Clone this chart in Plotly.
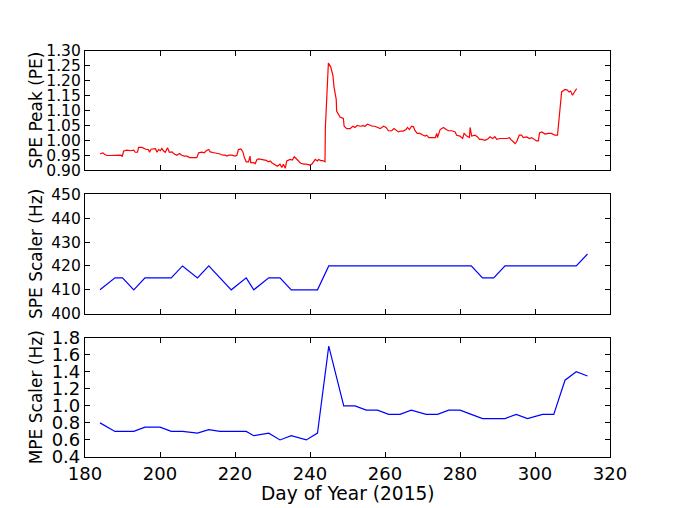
import plotly.graph_objects as go

# ---- data ----
peak_day = [184.0, 184.8, 185.2, 185.8, 186.7, 187.6, 188.5, 189.6, 189.9, 190.3, 191.2, 192.1, 193.0,
            193.4, 194.0, 194.3, 195.2, 195.6, 196.2, 196.9, 197.2, 197.6, 198.3, 198.8, 199.2, 199.6,
            200.1, 200.5, 200.9, 201.4, 202.0, 202.5, 203.2, 203.6, 204.5, 205.2, 205.8, 206.5, 207.2,
            207.9, 209.0, 209.8, 210.3, 211.2, 211.8, 212.3, 213.0, 213.4, 214.1, 214.7, 215.3, 216.0,
            216.8, 217.4, 217.8, 218.3, 219.2, 220.0, 220.5, 220.9, 221.6, 222.1, 222.5, 223.0, 223.6,
            224.0, 224.2, 224.9, 225.4, 225.8, 226.3, 227.2, 227.8, 228.3, 228.9, 229.4, 229.8, 230.7,
            231.3, 232.0, 232.5, 232.9, 233.2, 233.4, 233.8, 234.7, 235.3, 235.8, 236.3, 236.9, 237.5,
            238.4, 239.1, 239.9, 240.5, 241.4, 242.0, 242.3, 242.9, 243.4, 244.0, 244.1, 244.9, 245.5,
            246.1, 246.4, 247.0, 247.1, 248.0, 248.9, 249.1, 249.8, 250.7, 251.4, 252.0, 252.6, 253.4,
            254.1, 254.7, 255.3, 256.0, 256.7, 257.3, 258.0, 258.7, 259.6, 260.3, 260.9, 261.8, 262.4,
            263.0, 263.6, 264.2, 264.9, 265.6, 266.0, 266.5, 267.1, 267.6, 268.0, 268.6, 269.3, 270.2,
            270.7, 271.1, 271.7, 272.5, 273.4, 273.8, 274.0, 274.7, 275.6, 276.3, 276.9, 277.8, 278.7,
            279.1, 280.0, 280.7, 281.1, 281.8, 282.5, 282.7, 283.1, 284.0, 284.6, 285.2, 285.8, 286.7,
            287.6, 288.0, 288.7, 289.3, 289.8, 290.7, 291.6, 292.5, 293.2, 293.5, 294.2, 294.7, 295.1,
            295.8, 296.4, 296.9, 297.8, 298.5, 299.1, 299.7, 300.4, 300.9, 301.2, 301.8, 302.7, 303.6,
            304.4, 305.3, 305.8, 306.0, 307.1, 308.0, 308.6, 309.1, 309.5, 310.0, 310.7, 311.1]
peak_val = [0.956, 0.959, 0.954, 0.950, 0.950, 0.951, 0.950, 0.951, 0.946, 0.965, 0.968, 0.966, 0.968,
            0.961, 0.961, 0.977, 0.977, 0.974, 0.971, 0.970, 0.961, 0.971, 0.972, 0.973, 0.961, 0.970,
            0.966, 0.974, 0.966, 0.961, 0.976, 0.961, 0.962, 0.957, 0.951, 0.957, 0.951, 0.948, 0.948,
            0.943, 0.943, 0.943, 0.959, 0.961, 0.959, 0.966, 0.970, 0.962, 0.960, 0.959, 0.957, 0.955,
            0.951, 0.951, 0.948, 0.951, 0.951, 0.948, 0.951, 0.970, 0.972, 0.962, 0.943, 0.929, 0.929,
            0.948, 0.926, 0.926, 0.923, 0.935, 0.939, 0.937, 0.937, 0.934, 0.929, 0.932, 0.926, 0.918,
            0.914, 0.921, 0.910, 0.921, 0.912, 0.907, 0.932, 0.937, 0.935, 0.946, 0.940, 0.932, 0.924,
            0.921, 0.921, 0.918, 0.921, 0.937, 0.932, 0.937, 0.933, 0.933, 0.929, 1.044, 1.260, 1.247,
            1.219, 1.180, 1.137, 1.099, 1.079, 1.074, 1.048, 1.040, 1.040, 1.048, 1.044, 1.051, 1.048,
            1.050, 1.048, 1.055, 1.051, 1.048, 1.048, 1.044, 1.040, 1.048, 1.044, 1.033, 1.033, 1.040,
            1.035, 1.029, 1.032, 1.032, 1.037, 1.044, 1.037, 1.048, 1.046, 1.033, 1.024, 1.024, 1.018,
            1.015, 1.018, 1.010, 1.010, 1.010, 1.024, 1.010, 1.037, 1.044, 1.037, 1.033, 1.033, 1.029,
            1.018, 1.015, 1.007, 1.024, 1.015, 1.010, 1.044, 1.015, 1.018, 1.013, 1.004, 1.004, 1.001,
            1.007, 1.013, 1.007, 1.013, 1.004, 1.007, 1.007, 1.007, 1.010, 1.004, 0.996, 0.990, 0.996,
            1.018, 1.018, 1.010, 1.012, 1.007, 1.010, 1.004, 0.999, 0.999, 1.026, 1.029, 1.022, 1.024,
            1.024, 1.018, 1.018, 1.018, 1.163, 1.171, 1.169, 1.163, 1.166, 1.152, 1.166, 1.174]

scaler_day = [184, 188, 190, 193, 196, 200, 203, 206, 210, 213, 216, 219, 223, 225, 229, 232, 235, 239,
              242, 245, 249, 252, 255, 258, 261, 264, 267, 271, 274, 277, 280, 283, 286, 289, 292, 295,
              298, 302, 305, 308, 311, 314]
spe_scaler = [410, 415, 415, 410, 415, 415, 415, 420, 415, 420, 415, 410, 415, 410, 415, 415, 410, 410,
              410, 420, 420, 420, 420, 420, 420, 420, 420, 420, 420, 420, 420, 420, 415, 415, 420, 420,
              420, 420, 420, 420, 420, 425]
mpe_scaler = [0.80, 0.70, 0.70, 0.70, 0.75, 0.75, 0.70, 0.70, 0.68, 0.72, 0.70, 0.70, 0.70, 0.65, 0.68,
              0.60, 0.65, 0.60, 0.68, 1.70, 1.00, 1.00, 0.95, 0.95, 0.90, 0.90, 0.95, 0.90, 0.90, 0.95,
              0.95, 0.90, 0.85, 0.85, 0.85, 0.90, 0.85, 0.90, 0.90, 1.30, 1.40, 1.35]

x_ticks = [180, 200, 220, 240, 260, 280, 300, 320]
FAM = "DejaVu Sans"
def font(size):
    return dict(family=FAM, size=size, color="black")

fig = go.Figure()
fig.add_trace(go.Scatter(x=peak_day, y=peak_val, mode="lines", line=dict(color="#ff0000", width=1.2),
                         xaxis="x", yaxis="y"))
fig.add_trace(go.Scatter(x=scaler_day, y=spe_scaler, mode="lines", line=dict(color="#0000ff", width=1.2),
                         xaxis="x2", yaxis="y2"))
fig.add_trace(go.Scatter(x=scaler_day, y=mpe_scaler, mode="lines", line=dict(color="#0000ff", width=1.2),
                         xaxis="x3", yaxis="y3"))

common = dict(showline=True, linecolor="black", linewidth=1.2, mirror="allticks", ticks="inside",
              ticklen=5, tickwidth=1, tickcolor="black", showgrid=False, zeroline=False)

h = 0.2941
g = 0.0588
dom3 = [0, h]
dom2 = [h + g, 2 * h + g]
dom1 = [2 * h + 2 * g, 1]

# the page's body keeps an 8 px margin, so the figure is 8 px smaller and margins shifted
W, H = 670, 500
ML, MR, MT, MB = 77, 68, 43, 51
PW, PH = W - ML - MR, H - MT - MB

xcommon = dict(common, range=[180, 320], tickvals=x_ticks, ticktext=[str(v) for v in x_ticks],
               tickfont=font(18))
fig.update_layout(
    width=W, height=H,
    margin=dict(l=ML, r=MR, t=MT, b=MB, pad=0),
    paper_bgcolor="white", plot_bgcolor="white",
    showlegend=False,
    font=font(17),
    xaxis=dict(xcommon, anchor="y", showticklabels=False),
    xaxis2=dict(xcommon, anchor="y2", showticklabels=False, matches="x"),
    xaxis3=dict(xcommon, anchor="y3", matches="x"),
    yaxis=dict(common, domain=dom1, anchor="x", range=[0.90, 1.30], dtick=0.05, tick0=0.9,
               tickformat=".2f", tickfont=font(15.5)),
    yaxis2=dict(common, domain=dom2, anchor="x2", range=[400, 450], dtick=10, tick0=400,
                tickfont=font(15.5)),
    yaxis3=dict(common, domain=dom3, anchor="x3", range=[0.4, 1.8], dtick=0.2, tick0=0.4,
                tickformat=".1f", tickfont=font(18)),
)

lx = (36 - 8 - ML) / PW
for dom, txt in [(dom1, "SPE Peak (PE)"), (dom2, "SPE Scaler (Hz)"), (dom3, "MPE Scaler (Hz)")]:
    fig.add_annotation(text=txt, xref="paper", yref="paper", x=lx, y=(dom[0] + dom[1]) / 2,
                       textangle=-90, showarrow=False, xanchor="center", yanchor="middle", font=font(17))
fig.add_annotation(text="Day of Year (2015)", xref="paper", yref="paper", x=0.5, y=-36 / PH,
                   showarrow=False, xanchor="center", yanchor="middle", font=font(18.6))

fig.write_html("out.html")
